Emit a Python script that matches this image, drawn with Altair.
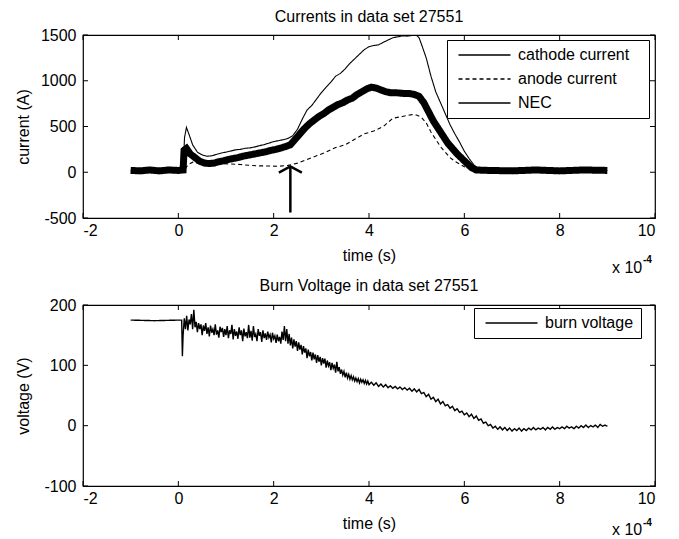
import altair as alt
import pandas as pd

FONT = "Liberation Sans"
FS = 16

# ---- data (time in units of 1e-4 s) ----
cathode_t = [-1.0, -0.5, 0.0, 0.1, 0.13, 0.17, 0.22, 0.3, 0.4, 0.5, 0.6, 0.7, 0.8, 0.9, 1.0,
             1.1, 1.2, 1.3, 1.4, 1.5, 1.6, 1.7, 1.8, 1.9, 2.0, 2.1, 2.2, 2.3, 2.4, 2.5,
             2.6, 2.7, 2.8, 2.9, 3.0, 3.1, 3.2, 3.3, 3.4, 3.5, 3.6, 3.7, 3.8, 3.9, 4.0,
             4.1, 4.2, 4.3, 4.4, 4.5, 4.6, 4.7, 4.8, 4.9, 5.0, 5.05, 5.1, 5.2, 5.3, 5.4,
             5.5, 5.6, 5.7, 5.8, 5.9, 6.0, 6.1, 6.2, 6.3, 6.5, 7.0, 8.0, 9.0]
cathode_i = [20, 20, 20, 25, 380, 490, 420, 300, 220, 190, 175, 180, 195, 210, 220,
             232, 245, 250, 262, 266, 276, 290, 302, 318, 335, 345, 356, 370, 400, 470,
             580, 680, 730, 800, 870, 930, 985, 1050, 1080, 1130, 1190, 1240, 1290, 1340, 1372,
             1385, 1392, 1420, 1445, 1470, 1480, 1490, 1488, 1495, 1495, 1470, 1400, 1250, 1050, 880,
             760, 640, 520, 420, 330, 230, 150, 80, 35, 20, 20, 20, 20]

anode_t = [-1.0, 0.0, 0.1, 0.2, 0.3, 0.4, 0.5, 0.7, 0.9, 1.1, 1.3, 1.5, 1.7, 1.9, 2.1,
           2.3, 2.5, 2.7, 2.9, 3.1, 3.3, 3.5, 3.7, 3.9, 4.1, 4.3, 4.5, 4.7, 4.9, 5.0,
           5.1, 5.2, 5.3, 5.4, 5.5, 5.6, 5.7, 5.8, 6.0, 6.2, 6.4, 7.0, 8.0, 9.0]
anode_i = [0, 0, 5, 80, 110, 100, 95, 90, 95, 90, 85, 75, 70, 68, 65,
           75, 100, 140, 180, 220, 270, 300, 360, 420, 450, 500, 590, 610, 630, 625,
           600, 540, 440, 360, 280, 220, 160, 120, 60, 25, 15, 10, 10, 10]

nec_t = [-1.0, -0.8, -0.6, -0.4, -0.2, 0.0, 0.1, 0.12, 0.17, 0.25, 0.35, 0.45, 0.55, 0.65, 0.75,
         0.85, 0.95, 1.05, 1.15, 1.25, 1.35, 1.45, 1.55, 1.65, 1.75, 1.85, 1.95, 2.05, 2.15, 2.25,
         2.35, 2.45, 2.55, 2.65, 2.75, 2.85, 2.95, 3.05, 3.15, 3.25, 3.35, 3.45, 3.55, 3.65, 3.75,
         3.85, 3.95, 4.05, 4.15, 4.25, 4.35, 4.45, 4.55, 4.65, 4.75, 4.85, 4.95, 5.05, 5.15, 5.25,
         5.35, 5.45, 5.55, 5.65, 5.75, 5.85, 5.95, 6.05, 6.15, 6.25, 6.5, 7.0, 7.5, 8.0, 8.5, 9.0]
nec_i = [20, 15, 25, 15, 25, 20, 25, 240, 260, 200, 160, 120, 100, 95, 100,
         115, 125, 140, 150, 160, 175, 185, 195, 205, 215, 225, 240, 250, 265, 280,
         300, 360, 420, 480, 530, 570, 610, 640, 680, 710, 740, 760, 790, 810, 850,
         880, 910, 930, 920, 900, 880, 870, 870, 865, 860, 860, 850, 830, 760, 660,
         560, 480, 400, 320, 260, 200, 150, 100, 50, 25, 20, 15, 25, 15, 25, 20]

# burn voltage: pre-trigger part
volt_t0 = [-1.0, -0.5, 0.0, 0.07, 0.085]
volt_v0 = [175, 174, 175, 175, 115]
# noisy part, 0.100 .. 3.975
volt_t1 = [0.100, 0.125, 0.150, 0.175, 0.200, 0.225, 0.250, 0.275,
           0.300, 0.325, 0.350, 0.375, 0.400, 0.425, 0.450, 0.475,
           0.500, 0.525, 0.550, 0.575, 0.600, 0.625, 0.650, 0.675,
           0.700, 0.725, 0.750, 0.775, 0.800, 0.825, 0.850, 0.875,
           0.900, 0.925, 0.950, 0.975, 1.000, 1.025, 1.050, 1.075,
           1.100, 1.125, 1.150, 1.175, 1.200, 1.225, 1.250, 1.275,
           1.300, 1.325, 1.350, 1.375, 1.400, 1.425, 1.450, 1.475,
           1.500, 1.525, 1.550, 1.575, 1.600, 1.625, 1.650, 1.675,
           1.700, 1.725, 1.750, 1.775, 1.800, 1.825, 1.850, 1.875,
           1.900, 1.925, 1.950, 1.975, 2.000, 2.025, 2.050, 2.075,
           2.100, 2.125, 2.150, 2.175, 2.200, 2.225, 2.250, 2.275,
           2.300, 2.325, 2.350, 2.375, 2.400, 2.425, 2.450, 2.475,
           2.500, 2.525, 2.550, 2.575, 2.600, 2.625, 2.650, 2.675,
           2.700, 2.725, 2.750, 2.775, 2.800, 2.825, 2.850, 2.875,
           2.900, 2.925, 2.950, 2.975, 3.000, 3.025, 3.050, 3.075,
           3.100, 3.125, 3.150, 3.175, 3.200, 3.225, 3.250, 3.275,
           3.300, 3.325, 3.350, 3.375, 3.400, 3.425, 3.450, 3.475,
           3.500, 3.525, 3.550, 3.575, 3.600, 3.625, 3.650, 3.675,
           3.700, 3.725, 3.750, 3.775, 3.800, 3.825, 3.850, 3.875,
           3.900, 3.925, 3.950, 3.975]
volt_v1 = [150, 178, 160, 182, 158, 176, 168, 185,
           160, 192, 163, 172, 155, 170, 160, 168,
           150, 166, 157, 170, 152, 163, 148, 166,
           154, 160, 150, 168, 151, 158, 146, 164,
           155, 162, 147, 160, 150, 165, 145, 158,
           152, 167, 143, 160, 149, 156, 144, 163,
           150, 158, 140, 161, 148, 155, 145, 167,
           146, 157, 141, 165, 147, 152, 140, 160,
           149, 155, 139, 158, 145, 153, 142, 156,
           146, 151, 138, 154, 144, 149, 137, 151,
           140, 147, 136, 156, 142, 165, 140, 160,
           136, 152, 133, 146, 128, 143, 131, 140,
           124, 138, 126, 134, 118, 132, 121, 128,
           112, 126, 115, 122, 108, 121, 110, 118,
           104, 117, 106, 114, 100, 112, 103, 111,
           96, 108, 99, 105, 92, 104, 95, 101,
           88, 106, 90, 97, 86, 93, 84, 90,
           80, 88, 79, 85, 77, 83, 76, 81,
           74, 79, 73, 78, 71, 77, 72, 76,
           70, 75, 69, 74]
# quieter part, 4.00 .. 9.00
volt_t2 = [4.00, 4.05, 4.10, 4.15, 4.20, 4.25, 4.30, 4.35, 4.40, 4.45,
           4.50, 4.55, 4.60, 4.65, 4.70, 4.75, 4.80, 4.85, 4.90, 4.95,
           5.00, 5.05, 5.10, 5.15, 5.20, 5.25, 5.30, 5.35, 5.40, 5.45,
           5.50, 5.55, 5.60, 5.65, 5.70, 5.75, 5.80, 5.85, 5.90, 5.95,
           6.00, 6.05, 6.10, 6.15, 6.20, 6.25, 6.30, 6.35, 6.40, 6.45,
           6.50, 6.55, 6.60, 6.65, 6.70, 6.75, 6.80, 6.85, 6.90, 6.95,
           7.00, 7.05, 7.10, 7.15, 7.20, 7.25, 7.30, 7.35, 7.40, 7.45,
           7.50, 7.55, 7.60, 7.65, 7.70, 7.75, 7.80, 7.85, 7.90, 7.95,
           8.00, 8.05, 8.10, 8.15, 8.20, 8.25, 8.30, 8.35, 8.40, 8.45,
           8.50, 8.55, 8.60, 8.65, 8.70, 8.75, 8.80, 8.85, 8.90, 8.95,
           9.00]
volt_v2 = [68, 72, 67, 71, 65, 69, 64, 68, 63, 66,
           62, 65, 61, 64, 60, 63, 59, 62, 57, 61,
           56, 60, 53, 55, 48, 52, 44, 47, 40, 44,
           36, 40, 33, 35, 29, 32, 25, 28, 22, 24,
           18, 21, 15, 19, 12, 16, 9, 11, 4, 6,
           0, 2, -4, -1, -6, -2, -7, -3, -8, -4,
           -9, -5, -8, -4, -9, -5, -8, -4, -7, -3,
           -7, -4, -6, -3, -7, -3, -6, -2, -6, -3,
           -5, -2, -5, -1, -4, -2, -5, -1, -4, 0,
           -3, 1, -3, 0, -2, 1, -3, 2, -1, 1,
           -1]

arrow_t = [2.35, 2.35]
arrow_i = [-440, 65]

x_ticks = [-2, 0, 2, 4, 6, 8, 10]
y1_ticks = [-500, 0, 500, 1000, 1500]
y2_ticks = [-100, 0, 100, 200]

SERIES = ["cathode current", "anode current", "NEC"]

W = 572
H1 = 183
H2 = 181
TL = 5  # inward tick length


def frame_ticks(xs, ys, xscale, yscale, h):
    xt = pd.DataFrame({"tv": xs})
    yt = pd.DataFrame({"tv": ys})
    rx = alt.Chart(xt).mark_rule(color="black", strokeWidth=1)
    ry = alt.Chart(yt).mark_rule(color="black", strokeWidth=1)
    xe = alt.X("tv:Q", scale=xscale)
    ye = alt.Y("tv:Q", scale=yscale)
    return [
        rx.encode(x=xe, y=alt.value(h - TL), y2=alt.value(h)),
        rx.encode(x=xe, y=alt.value(0), y2=alt.value(TL)),
        ry.encode(y=ye, x=alt.value(0), x2=alt.value(TL)),
        ry.encode(y=ye, x=alt.value(W - TL), x2=alt.value(W)),
    ]


def exp_label(y_main, y_sup):
    base = alt.Chart(pd.DataFrame({"a": [0]}))
    t1 = base.mark_text(text="x 10", font=FONT, fontSize=FS, align="left", baseline="middle",
                        color="black").encode(x=alt.value(529), y=alt.value(y_main))
    t2 = base.mark_text(text="-4", font=FONT, fontSize=10, fontWeight="bold", align="left",
                        baseline="middle", color="black").encode(x=alt.value(560), y=alt.value(y_sup))
    return [t1, t2]


def xaxis():
    return alt.Axis(values=x_ticks, title="time (s)", ticks=False, domain=False, grid=False,
                    labelExpr="'' + datum.value", labelPadding=4, titlePadding=9,
                    labelFont=FONT, labelFontSize=FS, titleFont=FONT, titleFontSize=FS,
                    titleFontWeight="normal", labelColor="black", titleColor="black")


def yaxis(title, vals):
    return alt.Axis(values=vals, title=title, ticks=False, domain=False, grid=False,
                    labelExpr="'' + datum.value", labelPadding=7, titlePadding=8,
                    minExtent=44, maxExtent=44,
                    labelFont=FONT, labelFontSize=FS, titleFont=FONT, titleFontSize=FS,
                    titleFontWeight="normal", labelColor="black", titleColor="black")


def legend(lx, ly, tail):
    # trailing blank-but-not-whitespace filler widens the box on the right like MATLAB's legend
    return alt.Legend(title=None, orient="none", legendX=lx, legendY=ly, padding=7,
                      strokeColor="black", fillColor="white", cornerRadius=0,
                      labelFont=FONT, labelFontSize=FS, labelColor="black",
                      labelExpr="datum.label + '" + tail + "'",
                      symbolType="M-1,0L7,0", symbolSize=169, symbolStrokeWidth=1.3,
                      symbolStrokeColor="black", symbolFillColor="transparent",
                      symbolOffset=3, labelOffset=45, rowPadding=8)


# ---- top panel ----
xs = alt.Scale(domain=[-2, 10], nice=False, zero=False)
ys1 = alt.Scale(domain=[-500, 1500], nice=False)

cur = pd.concat([
    pd.DataFrame({"t": cathode_t, "i": cathode_i, "series": SERIES[0]}),
    pd.DataFrame({"t": anode_t, "i": anode_i, "series": SERIES[1]}),
    pd.DataFrame({"t": nec_t, "i": nec_i, "series": SERIES[2]}),
])

lines1 = alt.Chart(cur).mark_line(color="black", clip=True).encode(
    x=alt.X("t:Q", scale=xs, axis=xaxis()),
    y=alt.Y("i:Q", scale=ys1, axis=yaxis("current (A)", y1_ticks)),
    detail="series:N",
    strokeDash=alt.StrokeDash(
        "series:N",
        scale=alt.Scale(domain=SERIES, range=[[1, 0], [4, 3], [1, 0]]),
        legend=legend(364, 5, "\u2800"),
    ),
    strokeWidth=alt.condition("datum.series == 'NEC'", alt.value(7), alt.value(1.1)),
)

arrow_df = pd.DataFrame({"t": arrow_t, "i": arrow_i})
arrow_line = alt.Chart(arrow_df).mark_line(color="black", strokeWidth=2.5).encode(
    x=alt.X("t:Q", scale=xs), y=alt.Y("i:Q", scale=ys1))
arrow_head = alt.Chart(arrow_df.iloc[[1]]).mark_point(
    shape="M-1,0.55L0,0L1,0.55", size=529, filled=False, color="black", strokeWidth=2.5,
    opacity=1).encode(x=alt.X("t:Q", scale=xs), y=alt.Y("i:Q", scale=ys1))

top = alt.layer(
    lines1, arrow_line, arrow_head, *frame_ticks(x_ticks, y1_ticks, xs, ys1, H1),
    *exp_label(H1 + 50, H1 + 42)
).properties(
    width=W, height=H1,
    title=alt.Title("Currents in data set 27551", font=FONT, fontSize=FS, fontWeight="normal",
                    color="black", offset=2),
)

# ---- bottom panel ----
ys2 = alt.Scale(domain=[-100, 200], nice=False)
volt = pd.DataFrame({"t": volt_t0 + volt_t1 + volt_t2,
                     "v": volt_v0 + volt_v1 + volt_v2,
                     "series": "burn voltage"})

lines2 = alt.Chart(volt).mark_line(color="black", strokeWidth=1.4, clip=True).encode(
    x=alt.X("t:Q", scale=xs, axis=xaxis()),
    y=alt.Y("v:Q", scale=ys2, axis=yaxis("voltage (V)", y2_ticks)),
    strokeDash=alt.StrokeDash(
        "series:N",
        scale=alt.Scale(domain=["burn voltage"], range=[[1, 0]]),
        legend=legend(391, 3, ""),
    ),
)

bottom = alt.layer(
    lines2, *frame_ticks(x_ticks, y2_ticks, xs, ys2, H2), *exp_label(H2 + 44, H2 + 37)
).properties(
    width=W, height=H2,
    title=alt.Title("Burn Voltage in data set 27551", font=FONT, fontSize=FS, fontWeight="normal",
                    color="black", offset=3),
)

chart = alt.vconcat(top, bottom, spacing=0).resolve_scale(
    strokeDash="independent", x="independent", y="independent"
).resolve_legend(strokeDash="independent").properties(
    padding={"left": 6, "top": 0, "right": 5, "bottom": 0},
    background="white",
).configure_view(stroke="black", strokeWidth=1.2)

chart.save("out.html", embed_options={"renderer": "svg", "actions": False})
